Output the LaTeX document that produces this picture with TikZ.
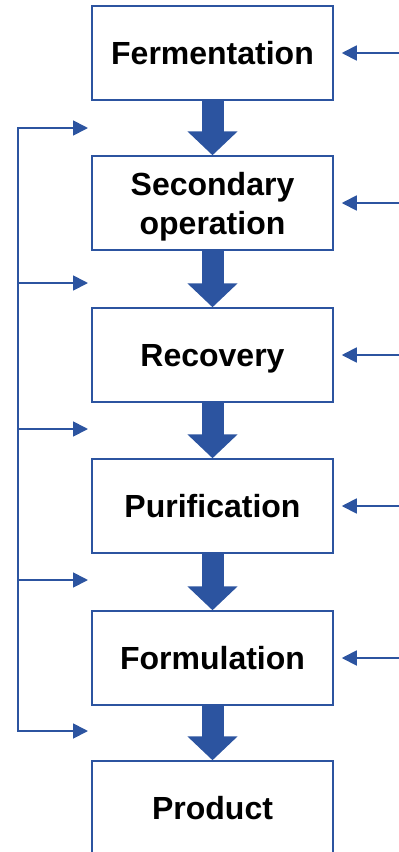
\documentclass[tikz,border=0pt]{standalone}
\usepackage{fontspec}
\setmainfont{Liberation Sans}
\usetikzlibrary{arrows.meta}
\definecolor{flowblue}{RGB}{44,84,160}
\tikzset{
  stage/.style={draw=flowblue, line width=1.5pt, fill=white, minimum width=241pt, minimum height=94pt, align=center, text height=23pt, text depth=0pt, font=\fontsize{32}{39}\selectfont\bfseries},
  flow/.style={flowblue, line width=22pt, -{Triangle[length=24pt,width=49pt]}},
  feed/.style={flowblue, line width=1.8pt, -{Triangle[length=15pt,width=15pt]}},
}

\begin{document}
\begin{tikzpicture}[x=1pt,y=-1pt]
			%%%%% STAGES %%%%%
			\useasboundingbox (0,0) rectangle (399,852);
			
			\node[stage] (ferm) at (212.5,53) {Fermentation};
			\node[stage, text height=62pt] (sec) at (212.5,203) {Secondary\\operation};
			\node[stage] (rec) at (212.5,355) {Recovery};
			\node[stage] (pur) at (212.5,506) {Purification};
			\node[stage] (form) at (212.5,658) {Formulation};
			\node[stage] (prod) at (212.5,808) {Product};
			
			%%%%% MAIN FLOW %%%%%
			\draw[flow] (ferm.south) -- (sec.north);
			\draw[flow] (sec.south) -- (rec.north);
			\draw[flow] (rec.south) -- (pur.north);
			\draw[flow] (pur.south) -- (form.north);
			\draw[flow] (form.south) -- (prod.north);
			
			%%%%% INPUTS %%%%%
			\foreach \s in {ferm,sec,rec,pur,form} {
				\path (\s.east) ++(66,0) coordinate (in-\s);
				\draw[feed] (in-\s) -- ([xshift=8pt]\s.east);
			}
			
			%%%%% RETURN LINE %%%%%
			\foreach \y [count=\i] in {128,283,429,580,731} {
				\coordinate (ret\i) at (18,\y);
				\coordinate (back\i) at (88,\y);
				\draw[feed] (ret\i) -- (back\i);
			}
			\draw[flowblue, line width=1.8pt, line cap=rect] (ret1) -- (ret5);
			
			%%%%% END %%%%%
\end{tikzpicture}
\end{document}
